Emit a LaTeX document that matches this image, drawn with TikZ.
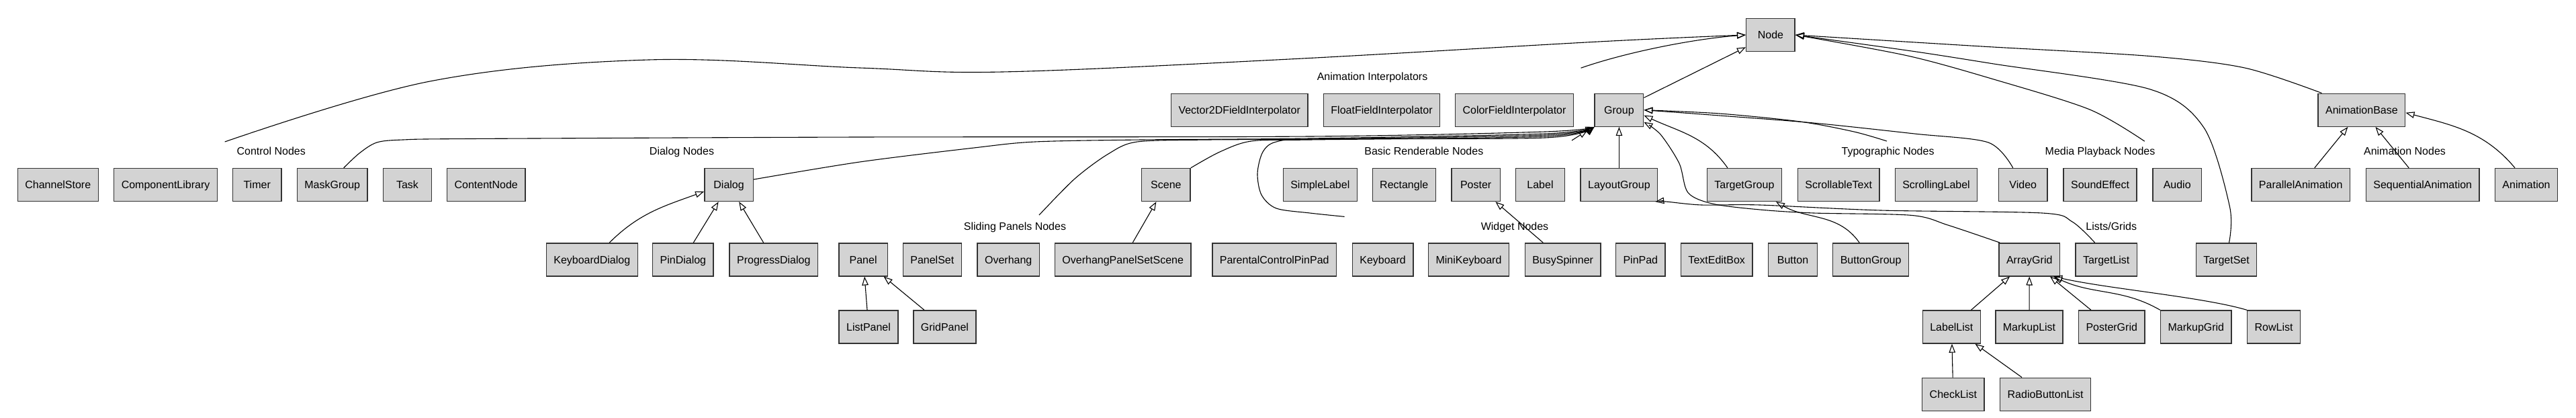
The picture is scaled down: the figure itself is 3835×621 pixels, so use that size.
\documentclass[tikz,border=0pt]{standalone}
\usepackage{fontspec}
\setmainfont{Liberation Sans}
\usetikzlibrary{arrows.meta, positioning}
\definecolor{boxfill}{HTML}{D3D3D3}
\definecolor{boxline}{HTML}{333333}

\begin{document}
\begin{tikzpicture}[x=1pt, y=1pt,
    box/.style={rectangle, draw=boxline, fill=boxfill, line width=1.4pt, minimum width=72.5pt, minimum height=49pt, inner xsep=11pt, text height=11.5pt, text depth=0pt, font=\fontsize{16}{19}\selectfont},
    isa/.style={-{Triangle[open, length=13pt, width=9.5pt]}, line width=1.1pt},
    cluster/.style={font=\fontsize{16}{19}\selectfont, text height=11.5pt, text depth=0pt, inner sep=0pt}
]
\useasboundingbox (0,0) rectangle (3835,-621);

% Base classes
\node[box] (root) at (2635.9,-52) {Node};
\node[box] (group) at (2410.4,-163.7) {Group};
\node[box] (animbase) at (3515.9,-163.7) {AnimationBase};

% Animation Interpolators
\node[cluster] (intlbl) at (2043,-113.9) {Animation Interpolators};
\node[box] (vecinterp) at (1845.2,-163.7) {Vector2DFieldInterpolator};
\node[box] (floatinterp) at (2057,-163.7) {FloatFieldInterpolator};
\node[box] (colorinterp) at (2254.5,-163.7) {ColorFieldInterpolator};

% Control Nodes
\node[cluster] (ctllbl) at (403.7,-225) {Control Nodes};
\node[box] (chstore) at (86.3,-275) {ChannelStore};
\node[box] (complib) at (246.6,-275) {ComponentLibrary};
\node[box] (timer) at (382.7,-275) {Timer};
\node[box] (maskgrp) at (494.7,-275) {MaskGroup};
\node[box] (task) at (606.5,-275) {Task};
\node[box] (content) at (723.7,-275) {ContentNode};

% Dialog Nodes
\node[cluster] (dlglbl) at (1015,-225) {Dialog Nodes};
\node[box] (dialog) at (1085.1,-275) {Dialog};
\node[box] (kbdialog) at (881.3,-386.3) {KeyboardDialog};
\node[box] (pindialog) at (1016.9,-386.3) {PinDialog};
\node[box] (progdialog) at (1151.8,-386.3) {ProgressDialog};

% Sliding Panels Nodes
\node[cluster] (sldlbl) at (1511,-336.3) {Sliding Panels Nodes};
\node[box] (panel) at (1285.1,-386.3) {Panel};
\node[box] (panelset) at (1387.8,-386.3) {PanelSet};
\node[box] (overhang) at (1501.2,-386.3) {Overhang};
\node[box] (ohscene) at (1671.7,-386.3) {OverhangPanelSetScene};
\node[box] (listpanel) at (1293,-486.5) {ListPanel};
\node[box] (gridpanel) at (1406.4,-486.5) {GridPanel};
\node[box] (scene) at (1735.9,-275) {Scene};

% Basic Renderable Nodes
\node[cluster] (baslbl) at (2119.8,-225) {Basic Renderable Nodes};
\node[box] (simplelbl) at (1965.3,-275) {SimpleLabel};
\node[box] (rect) at (2090.2,-275) {Rectangle};
\node[box] (poster) at (2197.1,-275) {Poster};
\node[box] (lbl) at (2293,-275) {Label};
\node[box] (layoutgrp) at (2410.4,-275) {LayoutGroup};
\node[box] (targetgrp) at (2596.9,-275) {TargetGroup};

% Widget Nodes
\node[cluster] (widlbl) at (2255,-336.3) {Widget Nodes};
\node[box] (parental) at (1897.2,-386.3) {ParentalControlPinPad};
\node[box] (keyboard) at (2058.6,-386.3) {Keyboard};
\node[box] (minikbd) at (2186.5,-386.3) {MiniKeyboard};
\node[box] (busy) at (2326.6,-386.3) {BusySpinner};
\node[box] (pinpad) at (2442.3,-386.3) {PinPad};
\node[box] (textedit) at (2555.7,-386.3) {TextEditBox};
\node[box] (button) at (2669,-386.3) {Button};
\node[box] (buttongrp) at (2785.1,-386.3) {ButtonGroup};

% Typographic and Media Playback Nodes
\node[cluster] (typlbl) at (2810.6,-225) {Typographic Nodes};
\node[box] (scrolltext) at (2737.2,-275) {ScrollableText};
\node[box] (scrolllbl) at (2882.5,-275) {ScrollingLabel};
\node[cluster] (medlbl) at (3126.5,-225) {Media Playback Nodes};
\node[box] (video) at (3011.7,-275) {Video};
\node[box] (sfx) at (3126.5,-275) {SoundEffect};
\node[box] (audio) at (3241.2,-275) {Audio};

% Lists/Grids
\node[cluster] (lstlbl) at (3143.2,-336.3) {Lists/Grids};
\node[box] (arraygrid) at (3021.2,-386.3) {ArrayGrid};
\node[box] (targetlist) at (3135.7,-386.3) {TargetList};
\node[box] (targetset) at (3314.5,-386.3) {TargetSet};
\node[box] (labellist) at (2905.3,-486.5) {LabelList};
\node[box] (markuplist) at (3021,-486.5) {MarkupList};
\node[box] (postergrid) at (3143.7,-486.5) {PosterGrid};
\node[box] (markupgrid) at (3269.3,-486.5) {MarkupGrid};
\node[box] (rowlist) at (3385.1,-486.5) {RowList};
\node[box] (checklist) at (2907.8,-586.7) {CheckList};
\node[box] (radiolist) at (3045.1,-586.7) {RadioButtonList};

% Animation Nodes
\node[cluster] (anilbl) at (3580,-225) {Animation Nodes};
\node[box] (paranim) at (3425.2,-275) {ParallelAnimation};
\node[box] (seqanim) at (3606.7,-275) {SequentialAnimation};
\node[box] (anim) at (3761,-275) {Animation};

% where cluster edges are clipped
\coordinate (ctlclu) at (334.7,-211);
\coordinate (intclu) at (2353.5,-101.2);
\coordinate (medclu) at (3192.7,-210.2);
\coordinate (typclu) at (2809,-210);
\coordinate (sldclu) at (1547,-320);
\coordinate (widclu) at (2001.6,-322.4);
\coordinate (basclu) at (2340,-209);

% edges into Node
\draw[isa] plot[smooth, tension=0.6] coordinates {(ctlclu) (640,-121) (966,-89) (1280,-101) (1492,-107) (1920,-88) (2380,-62) (root.west)};
\draw[isa] (intclu) .. controls (2420,-78) and (2520,-58) .. (root.west);
\draw[isa] (group) -- (root);
\draw[isa] plot[smooth] coordinates {([xshift=6]animbase.north west) (3341.8,-101) (3200,-83.5) (2950,-69) (root.east)};
\draw[isa] plot[smooth] coordinates {([xshift=4]targetset.north) (3319.5,-307.8) (3281,-190) (3200,-132.6) (2968,-95) (2846,-76) (root.east)};
\draw[isa] plot[smooth] coordinates {(medclu) (3111,-163) (2968,-118) (2840,-83) (root.east)};

% edges into Group
\draw[isa] (layoutgrp) -- (group);
\draw[isa] plot[smooth] coordinates {([xshift=-15]video.north) (2960,-212) (2850,-199) (2700,-183) (2560,-172) (group.east)};
\draw[isa] plot[smooth] coordinates {(typclu) (2760,-196) (2680,-181) (2560,-169) (group.east)};
\draw[isa] ([xshift=-25]targetgrp.north) to[out=125, in=-25] ([yshift=-8]group.east);
\draw[isa] plot[smooth] coordinates {([xshift=2]arraygrid.north west) (2900,-335) (2845.7,-320.4) (2700,-317) (2620,-312) (2550,-303.3) (2513,-286.7) (2500,-243.3) (2472,-200) ([yshift=-18]group.east)};
\draw[isa] plot[smooth] coordinates {([xshift=17]maskgrp.north) (535,-228) (561,-212) (600,-208) (700,-206.5) (1280,-204) (1950,-203) (2300,-196) (group.south west)};
\draw[isa] plot[smooth] coordinates {([yshift=8]dialog.east) (1280,-241) (1450,-220) (1541,-211) (1700,-208) (1950,-206) (2300,-199) (group.south west)};
\draw[isa] plot[smooth] coordinates {(sldclu) (1600,-266) (1650,-229) (1693,-211) (1800,-208) (1950,-207) (2300,-201) (group.south west)};
\draw[isa] plot[smooth] coordinates {(scene.north east) (1816,-226) (1863,-210) (1950,-208) (2300,-203) (group.south west)};
\draw[isa] plot[smooth] coordinates {(widclu) (1950,-317) (1900,-310) (1878,-290) (1872,-258) (1880,-226) (1900,-211) (1960,-207) (2300,-205) (group.south west)};
\draw[isa] (basclu) -- ([shift={(-10,-5)}]group.south west);

% other inheritance
\draw[isa] ([xshift=26]kbdialog.north) to[out=45, in=200] ([yshift=-10]dialog.west);
\draw[isa] (pindialog) -- (dialog);
\draw[isa] (progdialog) -- (dialog);
\draw[isa] (listpanel) -- (panel);
\draw[isa] (gridpanel) -- (panel);
\draw[isa] (ohscene) -- (scene);
\draw[isa] (busy) -- (poster);
\draw[isa] plot[smooth] coordinates {([xshift=-17]targetlist.north) (3085,-330) (3040,-317) (2800,-313) (2620,-305) (2533,-305) (2480,-300) ([xshift=-4]layoutgrp.south east)};
\draw[isa] ([xshift=-17]buttongrp.north) to[out=125, in=-30] ([xshift=47]targetgrp.south);
\draw[isa] (labellist) -- (arraygrid);
\draw[isa] (markuplist) -- (arraygrid);
\draw[isa] (postergrid) -- (arraygrid);
\draw[isa] (markupgrid.north west) to[out=150, in=-25] ([xshift=-10]arraygrid.south east);
\draw[isa] (rowlist.north west) .. controls (3280,-442) and (3140,-430) .. ([xshift=-10]arraygrid.south east);
\draw[isa] (checklist) -- (labellist);
\draw[isa] (radiolist) -- (labellist);
\draw[isa] (paranim) -- (animbase);
\draw[isa] (seqanim) -- (animbase);
\draw[isa] ([xshift=-17]anim.north) to[out=130, in=-15] ([yshift=-4]animbase.east);

\end{tikzpicture}
\end{document}
